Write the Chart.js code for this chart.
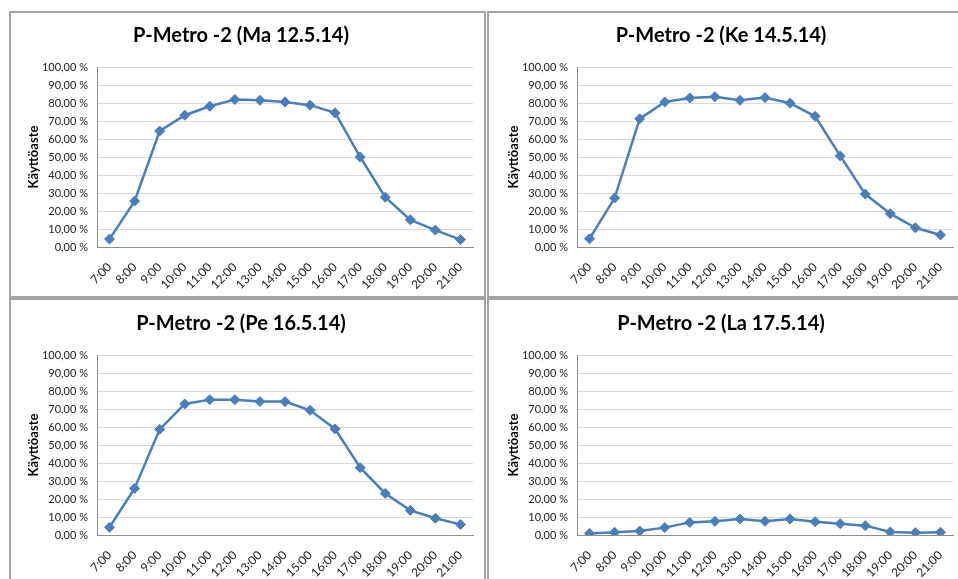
<!DOCTYPE html>
<html>
<head>
<meta charset="utf-8">
<script src="https://cdn.jsdelivr.net/npm/chart.js@4/dist/chart.umd.min.js"></script>
<style>
  html, body { margin: 0; padding: 0; background: #fff; overflow: hidden; }
  body { width: 958px; height: 579px; position: relative; }
  .panel { position: absolute; border: 2px solid #a3a3a3; box-sizing: border-box; pointer-events: none; z-index: 2; }
  canvas { position: absolute; }
</style>
</head>
<body>
<div class="panel" style="left:9px;top:11px;width:477px;height:287px"></div>
<div class="panel" style="left:487px;top:11px;width:480px;height:287px"></div>
<div class="panel" style="left:9px;top:298px;width:477px;height:300px"></div>
<div class="panel" style="left:487px;top:298px;width:480px;height:300px"></div>

<canvas id="c1" width="476" height="286" style="left:9px;top:11px"></canvas>
<canvas id="c2" width="476" height="286" style="left:489px;top:11px"></canvas>
<canvas id="c3" width="476" height="286" style="left:9px;top:299px"></canvas>
<canvas id="c4" width="476" height="286" style="left:489px;top:299px"></canvas>

<script>
// hours on the x axis
const hours = ['7:00', '8:00', '9:00', '10:00', '11:00', '12:00', '13:00', '14:00',
  '15:00', '16:00', '17:00', '18:00', '19:00', '20:00', '21:00'];

// occupancy (%) per day
const ma12 = [4.4, 25.5, 64.4, 73.2, 78.2, 81.9, 81.5, 80.6, 78.8, 74.5, 50.0, 27.7, 15.1, 9.4, 4.1];
const ke14 = [4.6, 27.2, 71.2, 80.6, 82.8, 83.5, 81.5, 83.0, 79.9, 72.6, 50.6, 29.4, 18.5, 10.7, 6.7];
const pe16 = [4.3, 25.9, 58.7, 72.8, 75.2, 75.2, 74.1, 74.1, 69.3, 58.9, 37.4, 23.1, 13.7, 9.3, 5.9];
const la17 = [0.9, 1.5, 2.2, 4.1, 7.0, 7.6, 8.9, 7.6, 8.9, 7.4, 6.3, 5.2, 1.7, 1.3, 1.5];

const titles = ['P-Metro -2 (Ma 12.5.14)', 'P-Metro -2 (Ke 14.5.14)',
  'P-Metro -2 (Pe 16.5.14)', 'P-Metro -2 (La 17.5.14)'];

const yTitle = 'Käyttöaste';
const blue = '#4a7ebb';
const font = 'Lato, "Liberation Sans", Arial, sans-serif';

function makeChart(id, title, values) {
  const ctx = document.getElementById(id).getContext('2d');
  return new Chart(ctx, {
    type: 'line',
    data: {
      labels: hours,
      datasets: [{
        data: values,
        borderColor: blue,
        backgroundColor: blue,
        borderWidth: 2.5,
        tension: 0,
        pointStyle: 'rectRot',
        pointRadius: 5,
        pointBorderWidth: 1
      }]
    },
    options: {
      responsive: false,
      animation: false,
      devicePixelRatio: 1,
      layout: { padding: { left: 0, right: 12, top: 0, bottom: 0 } },
      plugins: {
        legend: { display: false },
        tooltip: { enabled: false },
        title: {
          display: true,
          text: title,
          color: '#000',
          font: { family: font, size: 20, weight: 'bold' },
          padding: { top: 13, bottom: 19 }
        }
      },
      scales: {
        x: {
          offset: true,
          grid: { display: false },
          border: { display: true, color: '#8c8c8c', width: 1 },
          ticks: {
            color: '#222',
            font: { family: font, size: 12 },
            maxRotation: 45,
            minRotation: 45,
            padding: 5
          },
          afterFit: (axis) => { axis.height = 50; }
        },
        y: {
          min: 0,
          max: 100,
          grid: { color: '#d9d9d9', lineWidth: 1, drawTicks: false },
          border: { display: true, color: '#8c8c8c', width: 1 },
          ticks: {
            stepSize: 10,
            padding: 9,
            color: '#222',
            font: { family: font, size: 11 },
            callback: (v) => v.toFixed(2).replace('.', ',') + ' %'
          },
          title: {
            display: true,
            text: yTitle,
            color: '#000',
            font: { family: font, size: 13, weight: 'bold' },
            padding: { top: 17, bottom: 0 }
          },
          afterFit: (axis) => { axis.width = 88; }
        }
      }
    }
  });
}

makeChart('c1', titles[0], ma12);
makeChart('c2', titles[1], ke14);
makeChart('c3', titles[2], pe16);
makeChart('c4', titles[3], la17);
</script>
</body>
</html>
